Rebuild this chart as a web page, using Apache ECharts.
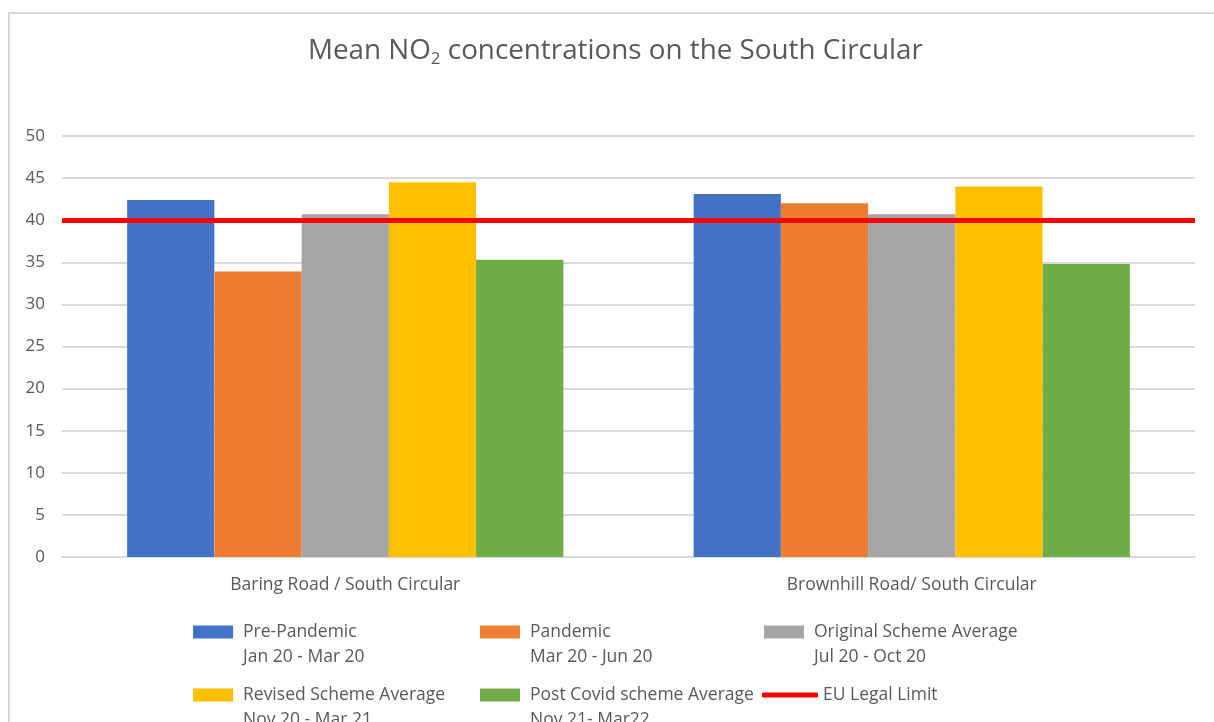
<!DOCTYPE html>
<html>
<head>
<meta charset="utf-8">
<script src="https://cdn.jsdelivr.net/npm/echarts@6/dist/echarts.min.js"></script>
<style>
  html, body { margin: 0; padding: 0; background: #fff; }
  #main { width: 1214px; height: 722px; }
</style>
</head>
<body>
<div id="main"></div>
<script>
var categories = ['Baring Road / South Circular', 'Brownhill Road/ South Circular'];
var seriesNames = ['Pre-Pandemic', 'Pandemic', 'Original Scheme Average', 'Revised Scheme Average', 'Post Covid scheme Average'];
var seriesPeriods = ['Jan 20 - Mar 20', 'Mar 20 - Jun 20', 'Jul 20 - Oct 20', 'Nov 20 - Mar 21', 'Nov 21- Mar22'];
var prePandemic = [42.4, 43.1];
var pandemic = [33.9, 42.0];
var originalScheme = [40.7, 40.7];
var revisedScheme = [44.5, 44.0];
var postCovid = [35.3, 34.8];
var limitName = 'EU Legal Limit';
var legalLimit = 40;
var yTicks = [0, 5, 10, 15, 20, 25, 30, 35, 40, 45, 50];

var colors = ['#4472C4', '#ED7D31', '#A5A5A5', '#FFC000', '#70AD47'];
var values = [prePandemic, pandemic, originalScheme, revisedScheme, postCovid];
var font = '"Open Sans", sans-serif';

var periodOf = {};
seriesNames.forEach(function (n, i) { periodOf[n] = seriesPeriods[i]; });

var series = seriesNames.map(function (name, i) {
  return {
    name: name,
    type: 'bar',
    data: values[i],
    barGap: '0%',
    barCategoryGap: '23%',
    itemStyle: { color: colors[i] }
  };
});
series.push({
  name: limitName,
  type: 'line',
  data: [],
  symbol: 'none',
  itemStyle: { color: '#FF0000' },
  lineStyle: { color: '#FF0000', width: 5 },
  markLine: {
    silent: true,
    symbol: 'none',
    label: { show: false },
    lineStyle: { color: '#FF0000', width: 5, type: 'solid' },
    data: [{ yAxis: legalLimit }]
  }
});

// legend slots: [left, top] of each item (3 columns x 2 rows)
var slots = [[188, 593], [475, 593], [759, 593], [188, 656], [475, 656], [757, 681]];
var legendNames = seriesNames.concat([limitName]);
var legends = legendNames.map(function (name, i) {
  var isLine = name === limitName;
  return {
    data: [name],
    left: slots[i][0],
    top: slots[i][1],
    icon: isLine ? 'roundRect' : 'rect',
    itemWidth: isLine ? 56 : 40,
    itemHeight: isLine ? 5 : 13,
    selectedMode: false,
    // blank first line keeps the icon level with the name line
    formatter: function (n) {
      return periodOf[n] ? '{e| }\n{a|' + n + '}\n{a|' + periodOf[n] + '}' : '{a|' + n + '}';
    },
    textStyle: {
      color: '#595959',
      fontFamily: font,
      fontSize: 17.5,
      rich: {
        e: { fontSize: 17.5, lineHeight: 25 },
        a: { fontFamily: font, fontSize: 17.5, color: '#595959', lineHeight: 25, padding: [0, 0, 0, isLine ? 0 : 5] }
      }
    }
  };
});

var chart = echarts.init(document.getElementById('main'));
chart.setOption({
  animation: false,
  backgroundColor: '#fff',
  graphic: [{
    type: 'rect',
    shape: { x: 9, y: 13, width: 1220, height: 720 },
    style: { fill: 'none', stroke: '#d9d9d9', lineWidth: 2 },
    silent: true
  }],
  title: {
    text: '{a|Mean NO}{s|2}{a| concentrations on the South Circular}',
    left: 303,
    top: 30,
    textStyle: {
      fontWeight: 'normal',
      rich: {
        a: { fontFamily: font, fontSize: 27.8, fontWeight: 'normal', color: '#595959' },
        s: { fontFamily: font, fontSize: 17, fontWeight: 'normal', color: '#595959', padding: [16, 0, 0, 0] }
      }
    }
  },
  legend: legends,
  grid: { left: 62, right: 19, top: 136, bottom: 165, containLabel: false },
  xAxis: {
    type: 'category',
    data: categories,
    axisTick: { show: false },
    axisLine: { lineStyle: { color: '#d9d9d9', width: 2 } },
    axisLabel: { color: '#595959', fontFamily: font, fontSize: 17.5, margin: 19 }
  },
  yAxis: {
    type: 'value',
    min: yTicks[0],
    max: yTicks[yTicks.length - 1],
    interval: yTicks[1] - yTicks[0],
    axisLine: { show: false },
    axisTick: { show: false },
    splitLine: { lineStyle: { color: '#d9d9d9', width: 2 } },
    axisLabel: { color: '#595959', fontFamily: font, fontSize: 17, margin: 17 }
  },
  series: series
});
</script>
</body>
</html>
